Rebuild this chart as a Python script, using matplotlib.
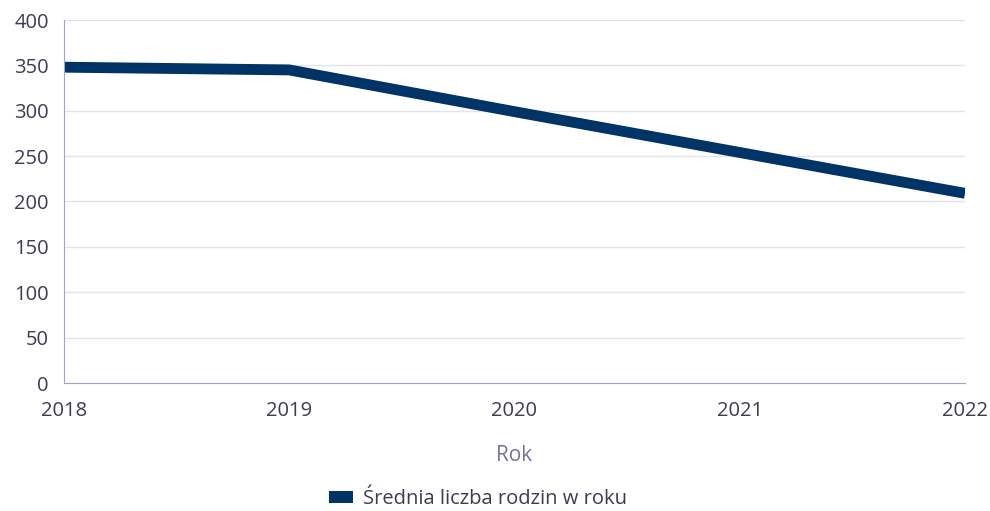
import matplotlib.pyplot as plt
from matplotlib.patches import Patch

years = [2018, 2019, 2020, 2021, 2022]
families = [348, 345, 299, 254, 209]
series_name = "Średnia liczba rodzin w roku"

plt.rcParams['font.family'] = ['Open Sans', 'DejaVu Sans']

fig = plt.figure(figsize=(9.9, 5.11), dpi=100)
ax = fig.add_axes([64 / 990, 1 - 383 / 511, 901 / 990, 363 / 511])

# plotting the line
ax.plot(years, families, color='#003366', linewidth=7.8, solid_capstyle='butt',
        label=series_name)

ax.set_xlim(2018, 2022)
ax.set_ylim(0, 400)
ax.set_xticks(years)
ax.set_yticks(range(0, 401, 50))
ax.grid(axis='y', color='#e3e3ef', linewidth=1)
ax.set_axisbelow(True)

for side in ['top', 'right']:
    ax.spines[side].set_visible(False)
for side in ['left', 'bottom']:
    ax.spines[side].set_color('#a3a3c2')
ax.tick_params(axis='both', length=0, labelsize=14.5, colors='#3b3b55')
ax.tick_params(axis='x', pad=13)
ax.tick_params(axis='y', pad=11)

ax.set_xlabel("Rok", fontsize=15, color='#72729a', labelpad=17)

handle = Patch(facecolor='#003366', edgecolor='none')
fig.legend([handle], [series_name], loc='center', bbox_to_anchor=(0.483, 1 - 499 / 511),
           frameon=False, fontsize=14.5, labelcolor='#3b3b55', handletextpad=0.5,
           handlelength=1.2, handleheight=0.6)

fig.savefig('out.png', dpi=100)
